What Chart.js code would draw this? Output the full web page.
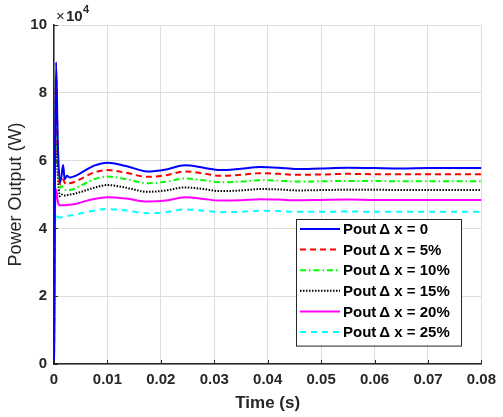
<!DOCTYPE html>
<html>
<head>
<meta charset="utf-8">
<script src="https://cdn.jsdelivr.net/npm/chart.js@4"></script>
<style>
  html, body { margin: 0; padding: 0; background: #fff; }
  #powerChart { display: block; }
</style>
</head>
<body>
<canvas id="powerChart" width="503" height="417"></canvas>
<script>
// time samples (s) shared by every curve
const timeSec = [0, 0.0002, 0.0004, 0.0007, 0.0011, 0.0014, 0.0017, 0.002, 0.0024, 0.003,
  0.004, 0.0055, 0.0075, 0.01, 0.0135, 0.0175, 0.021, 0.0245, 0.028, 0.031,
  0.035, 0.0386, 0.042, 0.0455, 0.05, 0.055, 0.06, 0.065, 0.07, 0.075, 0.08];

// power output, in units of 10^4 W
const pout0 = [0, 6.2, 8.9, 6.6, 5.35, 5.55, 5.87, 5.45, 5.55, 5.5,
  5.55, 5.68, 5.85, 5.94, 5.84, 5.68, 5.74, 5.86, 5.79, 5.72,
  5.76, 5.81, 5.79, 5.75, 5.77, 5.79, 5.78, 5.77, 5.78, 5.78, 5.78];
const pout5 = [0, 6.0, 8.47, 6.2, 5.3, 5.4, 5.45, 5.35, 5.3, 5.33,
  5.38, 5.5, 5.65, 5.72, 5.64, 5.52, 5.57, 5.68, 5.62, 5.55,
  5.58, 5.63, 5.61, 5.58, 5.59, 5.61, 5.6, 5.6, 5.6, 5.6, 5.6];
const pout10 = [0, 5.8, 8.0, 6.0, 5.2, 5.25, 5.2, 5.15, 5.12, 5.13,
  5.18, 5.3, 5.45, 5.53, 5.45, 5.33, 5.38, 5.47, 5.42, 5.36,
  5.38, 5.42, 5.41, 5.38, 5.39, 5.4, 5.4, 5.39, 5.39, 5.39, 5.39];
const pout15 = [0, 5.5, 6.6, 5.6, 4.95, 5.0, 4.98, 4.97, 4.98, 5.0,
  5.03, 5.1, 5.2, 5.28, 5.2, 5.08, 5.12, 5.21, 5.16, 5.1,
  5.12, 5.16, 5.15, 5.12, 5.13, 5.14, 5.14, 5.13, 5.13, 5.13, 5.13];
const pout20 = [0, 4.6, 5.15, 4.8, 4.68, 4.68, 4.68, 4.68, 4.69, 4.7,
  4.72, 4.79, 4.87, 4.92, 4.88, 4.79, 4.82, 4.92, 4.87, 4.82,
  4.83, 4.86, 4.85, 4.83, 4.84, 4.85, 4.84, 4.84, 4.84, 4.84, 4.84];
const pout25 = [0, 4.2, 4.45, 4.35, 4.32, 4.33, 4.35, 4.36, 4.37, 4.38,
  4.4, 4.46, 4.53, 4.57, 4.53, 4.45, 4.48, 4.56, 4.52, 4.48,
  4.49, 4.52, 4.51, 4.49, 4.49, 4.5, 4.49, 4.49, 4.49, 4.49, 4.49];

const seriesLabels = ['Pout\u2009\u0394 x = 0', 'Pout\u2009\u0394 x = 5%', 'Pout\u2009\u0394 x = 10%',
  'Pout\u2009\u0394 x = 15%', 'Pout\u2009\u0394 x = 20%', 'Pout\u2009\u0394 x = 25%'];
const seriesValues = [pout0, pout5, pout10, pout15, pout20, pout25];

const xTicks = [0, 0.01, 0.02, 0.03, 0.04, 0.05, 0.06, 0.07, 0.08];
const yTicks = [0, 2, 4, 6, 8, 10];

const seriesColors = ['#0000ff', '#ff0000', '#00ff00', '#000000', '#ff00ff', '#00ffff'];
const seriesDashes = [[], [6, 4], [6, 3, 1.5, 3], [1.5, 1.5], [], [6, 5]];

const axisColor = '#262626';
const FONT = '"Liberation Sans", Arial, Helvetica, sans-serif';

function toPoints(values) {
  return values.map((v, i) => ({ x: timeSec[i], y: v }));
}

// legend box inside the plot + the x10^4 exponent label
const extrasPlugin = {
  id: 'extras',
  afterDraw(chart) {
    const ctx = chart.ctx;
    const area = chart.chartArea;
    ctx.save();

    // inward tick marks
    ctx.strokeStyle = axisColor;
    ctx.lineWidth = 1;
    const xs = chart.scales.x, ys = chart.scales.y;
    xTicks.forEach(t => {
      const px = Math.round(xs.getPixelForValue(t)) + 0.5;
      ctx.beginPath(); ctx.moveTo(px, area.bottom); ctx.lineTo(px, area.bottom - 4); ctx.stroke();
    });
    yTicks.forEach(t => {
      const py = Math.round(ys.getPixelForValue(t)) + 0.5;
      ctx.beginPath(); ctx.moveTo(area.left, py); ctx.lineTo(area.left + 4, py); ctx.stroke();
    });

    // exponent
    ctx.fillStyle = axisColor;
    ctx.textBaseline = 'alphabetic';
    ctx.textAlign = 'left';
    ctx.font = '15px ' + FONT;
    ctx.fillText('\u00d7', area.left + 2, area.top - 4);
    ctx.font = 'bold 15px ' + FONT;
    ctx.fillText('10', area.left + 12, area.top - 4);
    ctx.font = 'bold 11px ' + FONT;
    ctx.fillText('4', area.left + 29, area.top - 12);

    // legend
    const boxLeft = 296, boxTop = 219, boxW = 165, rowH = 20.6;
    const boxH = rowH * chart.data.datasets.length + 3;
    ctx.fillStyle = '#ffffff';
    ctx.fillRect(boxLeft, boxTop, boxW, boxH);
    ctx.strokeStyle = axisColor;
    ctx.lineWidth = 1;
    ctx.strokeRect(boxLeft + 0.5, boxTop + 0.5, boxW, boxH);
    ctx.font = 'bold 15px ' + FONT;
    ctx.textBaseline = 'middle';
    chart.data.datasets.forEach((ds, i) => {
      const y = boxTop + 10 + rowH * i;
      ctx.strokeStyle = ds.borderColor;
      ctx.lineWidth = ds.borderWidth;
      ctx.setLineDash(ds.borderDash);
      ctx.beginPath(); ctx.moveTo(boxLeft + 4, y); ctx.lineTo(boxLeft + 44, y); ctx.stroke();
      ctx.setLineDash([]);
      ctx.fillStyle = '#000000';
      ctx.fillText(ds.label, boxLeft + 47, y + 1);
    });
    ctx.restore();
  }
};

new Chart(document.getElementById('powerChart'), {
  type: 'line',
  data: {
    datasets: seriesLabels.map((label, i) => ({
      label: label,
      data: toPoints(seriesValues[i]),
      borderColor: seriesColors[i],
      backgroundColor: seriesColors[i],
      borderWidth: 2,
      borderDash: seriesDashes[i],
      pointRadius: 0,
      fill: false,
      cubicInterpolationMode: 'monotone'
    }))
  },
  options: {
    responsive: false,
    animation: false,
    devicePixelRatio: 1,
    layout: { padding: { top: 25, right: 15, left: 0, bottom: 0 } },
    plugins: {
      legend: { display: false },
      tooltip: { enabled: false }
    },
    scales: {
      x: {
        type: 'linear',
        min: 0,
        max: 0.08,
        afterFit(scale) { scale.height = 53; },
        afterBuildTicks(scale) { scale.ticks = xTicks.map(v => ({ value: v })); },
        ticks: {
          padding: 7,
          color: axisColor,
          font: { family: FONT, size: 15, weight: 'bold' },
          maxRotation: 0,
          callback: v => String(v)
        },
        grid: { color: '#dddddd', lineWidth: 1, drawTicks: false },
        border: { color: axisColor, width: 1.5 },
        title: {
          display: true,
          text: 'Time (s)',
          color: axisColor,
          font: { family: FONT, size: 17, weight: 'bold' },
          padding: { top: 0, bottom: 3 }
        }
      },
      y: {
        min: 0,
        max: 10,
        afterFit(scale) { scale.width = 54; },
        afterBuildTicks(scale) { scale.ticks = yTicks.map(v => ({ value: v })); },
        ticks: {
          padding: 7,
          color: axisColor,
          font: { family: FONT, size: 15, weight: 'bold' }
        },
        grid: { color: '#dddddd', lineWidth: 1, drawTicks: false },
        border: { color: axisColor, width: 1.5 },
        title: {
          display: true,
          text: 'Power Output (W)',
          color: axisColor,
          font: { family: FONT, size: 18, weight: 'normal' },
          padding: { top: 5, bottom: 0 }
        }
      }
    }
  },
  plugins: [extrasPlugin]
});
</script>
</body>
</html>
